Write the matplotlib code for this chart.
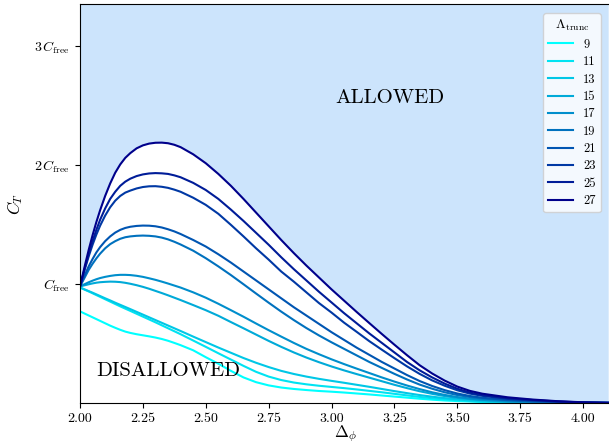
import matplotlib
matplotlib.use("Agg")
import matplotlib.pyplot as plt
from matplotlib.colors import LinearSegmentedColormap
import numpy as np

plt.rcParams['font.family'] = ['cmr10', 'DejaVu Serif']
plt.rcParams['mathtext.fontset'] = 'cm'
plt.rcParams['axes.unicode_minus'] = False
plt.rcParams['axes.formatter.use_mathtext'] = True

# Delta_phi grid
x = [2.0, 2.01, 2.02, 2.035, 2.05, 2.065, 2.08, 2.1, 2.12, 2.14, 2.16, 2.18, 2.2,
     2.225, 2.25, 2.275, 2.3, 2.325, 2.35, 2.375, 2.4,
     2.45, 2.5, 2.55, 2.6, 2.65, 2.7, 2.75, 2.8, 2.85, 2.9, 2.95, 3.0, 3.05, 3.1, 3.15,
     3.2, 3.25, 3.3, 3.35, 3.4, 3.45, 3.5, 3.55, 3.6,
     3.7, 3.8, 3.9, 4.0, 4.1]

lambdas = [9, 11, 13, 15, 17, 19, 21, 23, 25, 27]

# C_T / C_free for each Lambda_trunc
ct_9 = [0.77, 0.76, 0.75, 0.735, 0.72, 0.705, 0.69, 0.67, 0.65, 0.632, 0.615, 0.6, 0.589,
        0.578, 0.569, 0.56, 0.55, 0.538, 0.523, 0.505, 0.486,
        0.443, 0.385, 0.33, 0.27, 0.215, 0.175, 0.148, 0.13, 0.118, 0.109, 0.101, 0.095, 0.088, 0.08, 0.072,
        0.063, 0.054, 0.045, 0.036, 0.028, 0.021, 0.016, 0.012, 0.008,
        0.004, 0.002, 0.001, 0.0, 0.0]
ct_11 = [0.97, 0.961, 0.951, 0.937, 0.922, 0.907, 0.892, 0.872, 0.852, 0.832, 0.812, 0.793, 0.774,
         0.75, 0.726, 0.702, 0.678, 0.653, 0.628, 0.603, 0.578,
         0.525, 0.472, 0.418, 0.365, 0.312, 0.262, 0.222, 0.193, 0.172, 0.157, 0.145, 0.135, 0.125, 0.114, 0.102,
         0.09, 0.077, 0.064, 0.051, 0.04, 0.031, 0.023, 0.017, 0.012,
         0.006, 0.003, 0.001, 0.0, 0.0]
ct_13 = [0.97, 0.962, 0.953, 0.94, 0.927, 0.913, 0.899, 0.88, 0.862, 0.843, 0.825, 0.807, 0.789,
         0.766, 0.743, 0.72, 0.697, 0.674, 0.651, 0.628, 0.605,
         0.558, 0.512, 0.466, 0.422, 0.378, 0.338, 0.302, 0.27, 0.244, 0.222, 0.203, 0.186, 0.17, 0.153, 0.136,
         0.118, 0.1, 0.083, 0.067, 0.053, 0.041, 0.031, 0.022, 0.016,
         0.008, 0.004, 0.002, 0.0, 0.0]
ct_15 = [0.98, 0.985, 0.99, 0.998, 1.005, 1.011, 1.015, 1.018, 1.02, 1.019, 1.016, 1.01, 1.002,
         0.99, 0.976, 0.96, 0.942, 0.924, 0.905, 0.885, 0.865,
         0.823, 0.78, 0.733, 0.68, 0.628, 0.575, 0.522, 0.472, 0.425, 0.382, 0.343, 0.307, 0.274, 0.243, 0.213,
         0.183, 0.153, 0.125, 0.099, 0.077, 0.058, 0.043, 0.032, 0.023,
         0.012, 0.006, 0.003, 0.001, 0.0]
ct_17 = [0.98, 0.99, 1.0, 1.015, 1.028, 1.04, 1.05, 1.06, 1.068, 1.074, 1.077, 1.077, 1.075,
         1.069, 1.06, 1.048, 1.035, 1.02, 1.004, 0.987, 0.97,
         0.93, 0.885, 0.834, 0.78, 0.725, 0.668, 0.612, 0.558, 0.505, 0.455, 0.41, 0.367, 0.327, 0.289, 0.252,
         0.215, 0.18, 0.147, 0.117, 0.09, 0.068, 0.05, 0.037, 0.027,
         0.015, 0.008, 0.004, 0.001, 0.0]
ct_19 = [0.98, 1.02, 1.06, 1.12, 1.17, 1.215, 1.255, 1.30, 1.335, 1.36, 1.38, 1.393, 1.40,
         1.405, 1.407, 1.405, 1.40, 1.39, 1.375, 1.355, 1.332,
         1.28, 1.217, 1.148, 1.075, 0.998, 0.92, 0.843, 0.768, 0.697, 0.63, 0.568, 0.51, 0.455, 0.40, 0.345,
         0.295, 0.245, 0.198, 0.155, 0.12, 0.09, 0.067, 0.05, 0.037,
         0.022, 0.012, 0.006, 0.002, 0.0]
ct_21 = [0.98, 1.03, 1.08, 1.15, 1.21, 1.265, 1.31, 1.36, 1.40, 1.432, 1.455, 1.471, 1.481,
         1.488, 1.491, 1.49, 1.485, 1.475, 1.46, 1.442, 1.42,
         1.37, 1.315, 1.25, 1.18, 1.105, 1.03, 0.955, 0.88, 0.805, 0.735, 0.665, 0.595, 0.53, 0.465, 0.405,
         0.345, 0.29, 0.235, 0.185, 0.143, 0.108, 0.08, 0.059, 0.044,
         0.026, 0.015, 0.008, 0.003, 0.001]
ct_23 = [0.98, 1.055, 1.13, 1.235, 1.33, 1.415, 1.49, 1.575, 1.645, 1.70, 1.74, 1.768, 1.785,
         1.803, 1.815, 1.821, 1.822, 1.817, 1.808, 1.793, 1.775,
         1.725, 1.665, 1.59, 1.497, 1.40, 1.30, 1.205, 1.105, 1.02, 0.93, 0.84, 0.76, 0.675, 0.598, 0.52,
         0.448, 0.377, 0.308, 0.245, 0.19, 0.145, 0.107, 0.079, 0.06,
         0.035, 0.021, 0.011, 0.004, 0.001]
ct_25 = [0.98, 1.06, 1.14, 1.255, 1.36, 1.455, 1.54, 1.635, 1.715, 1.775, 1.825, 1.86, 1.885,
         1.907, 1.921, 1.929, 1.932, 1.93, 1.925, 1.913, 1.897,
         1.85, 1.79, 1.715, 1.625, 1.53, 1.43, 1.33, 1.225, 1.125, 1.03, 0.935, 0.845, 0.755, 0.67, 0.585,
         0.505, 0.425, 0.345, 0.275, 0.215, 0.163, 0.12, 0.088, 0.066,
         0.04, 0.025, 0.013, 0.005, 0.002]
ct_27 = [0.98, 1.07, 1.16, 1.29, 1.41, 1.52, 1.62, 1.74, 1.845, 1.935, 2.005, 2.06, 2.10,
         2.14, 2.165, 2.18, 2.187, 2.188, 2.183, 2.17, 2.15,
         2.09, 2.015, 1.925, 1.825, 1.715, 1.60, 1.485, 1.37, 1.26, 1.155, 1.055, 0.955, 0.86, 0.765, 0.672,
         0.58, 0.49, 0.402, 0.318, 0.248, 0.188, 0.138, 0.102, 0.078,
         0.048, 0.029, 0.015, 0.006, 0.002]

curves = [ct_9, ct_11, ct_13, ct_15, ct_17, ct_19, ct_21, ct_23, ct_25, ct_27]

ytick_vals = [1, 2, 3]
ytick_labels = [r'$C_{\mathrm{free}}$', r'$2\,C_{\mathrm{free}}$', r'$3\,C_{\mathrm{free}}$']
xtick_vals = [2.0, 2.25, 2.5, 2.75, 3.0, 3.25, 3.5, 3.75, 4.0]

fig = plt.figure(figsize=(6.09, 4.44), dpi=100)
ax = fig.add_axes([80/609, 41/444, 530.7/609, 399/444])

cmap = LinearSegmentedColormap.from_list('cb', ['cyan', 'darkblue'])
n = len(lambdas)

xa = np.array(x)
upper = np.array(ct_27)
ax.fill_between(xa, upper, 3.353, color='#cce4fc', zorder=0, linewidth=0)

for i, (lam, c) in enumerate(zip(lambdas, curves)):
    ax.plot(xa, c, color=cmap(i / (n - 1)), lw=1.5, label=str(lam))

ax.set_xlim(2.0, 4.11)
ax.set_ylim(0, 3.353)
ax.set_xticks(xtick_vals)
ax.set_xticklabels([f'{v:.2f}' for v in xtick_vals])
ax.set_yticks(ytick_vals)
ax.set_yticklabels(ytick_labels)
ax.tick_params(labelsize=10)
ax.set_xlabel(r'$\Delta_\phi$', fontsize=12, labelpad=-1)
ax.set_ylabel(r'$C_T$', fontsize=12, labelpad=7)

ax.text(3.233, 2.56, 'ALLOWED', fontsize=15, ha='center', va='center')
ax.text(2.35, 0.27, 'DISALLOWED', fontsize=15, ha='center', va='center')

leg = ax.legend(title=r'$\Lambda_{\mathrm{trunc}}$', loc='upper right', fontsize=9,
                labelspacing=0.42, title_fontsize=10, bbox_to_anchor=(0.993, 0.993))

fig.savefig('out.png', dpi=100)
